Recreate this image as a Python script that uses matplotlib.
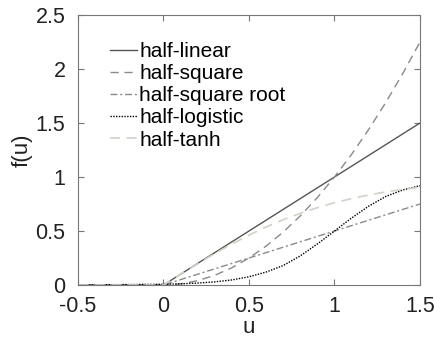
import matplotlib
matplotlib.use('Agg')
import matplotlib.pyplot as plt

plt.rcParams['font.family'] = ['Liberation Sans', 'DejaVu Sans']

# values
u = [-0.5, 0.0, 0.1, 0.2, 0.3, 0.4, 0.5, 0.6, 0.7, 0.8, 0.9, 1.0, 1.1, 1.2, 1.3, 1.4, 1.5]
half_linear = [0, 0, 0.10, 0.20, 0.30, 0.40, 0.50, 0.60, 0.70, 0.80, 0.90, 1.00, 1.10, 1.20, 1.30, 1.40, 1.50]
half_square = [0, 0, 0.01, 0.04, 0.09, 0.16, 0.25, 0.36, 0.49, 0.64, 0.81, 1.00, 1.21, 1.44, 1.69, 1.96, 2.25]
half_sqrt = [0, 0, 0.05, 0.10, 0.15, 0.20, 0.25, 0.30, 0.35, 0.40, 0.45, 0.50, 0.55, 0.60, 0.65, 0.70, 0.75]
half_logistic = [0, 0.007, 0.011, 0.018, 0.029, 0.047, 0.076, 0.12, 0.18, 0.27, 0.38, 0.50, 0.62, 0.73, 0.82, 0.88, 0.92]
half_tanh = [0, 0, 0.10, 0.197, 0.291, 0.380, 0.462, 0.537, 0.604, 0.664, 0.716, 0.762, 0.800, 0.834, 0.862, 0.885, 0.905]

fig = plt.figure(figsize=(4.35, 3.39), dpi=100)
ax = fig.add_axes([78 / 435, 54 / 339, 342 / 435, 270 / 339])

ax.plot(u, half_linear, '-', color='#555555', lw=1.0, label='half-linear')
ax.plot(u, half_square, '--', color='#8a8a8a', lw=1.0, dashes=(6, 4), label='half-square')
ax.plot(u, half_sqrt, '-.', color='#8a8a8a', lw=1.0, dashes=(5, 2, 1.5, 2), label='half-square root')
ax.plot(u, half_logistic, ':', color='black', lw=1.0, dashes=(1, 1), label='half-logistic')
ax.plot(u, half_tanh, '--', color='#d4d0c8', lw=1.2, dashes=(6, 4), label='half-tanh')

ax.set_xlim(-0.5, 1.5)
ax.set_ylim(0, 2.5)
ax.set_xticks([-0.5, 0, 0.5, 1, 1.5])
ax.set_xticklabels(['-0.5', '0', '0.5', '1', '1.5'])
ax.set_yticks([0, 0.5, 1, 1.5, 2, 2.5])
ax.set_yticklabels(['0', '0.5', '1', '1.5', '2', '2.5'], va='center_baseline')
ax.tick_params(direction='in', top=True, right=True, labelsize=15.5, length=4,
               color='#777777', labelcolor='#222222')
ax.tick_params(axis='x', pad=8)
ax.tick_params(axis='y', pad=9)
for s in ax.spines.values():
    s.set_color('#777777')
    s.set_linewidth(0.8)

ax.set_xlabel('u', fontsize=16, color='#222222', labelpad=0)
ax.set_ylabel('f(u)', fontsize=16, color='#222222', labelpad=2)

ax.legend(loc='upper left', bbox_to_anchor=(0.094, 0.90), frameon=False, fontsize=15,
          handlelength=1.3, handletextpad=0.1, labelspacing=0.15, borderaxespad=0,
          borderpad=0)

fig.savefig('out.png', dpi=100)
